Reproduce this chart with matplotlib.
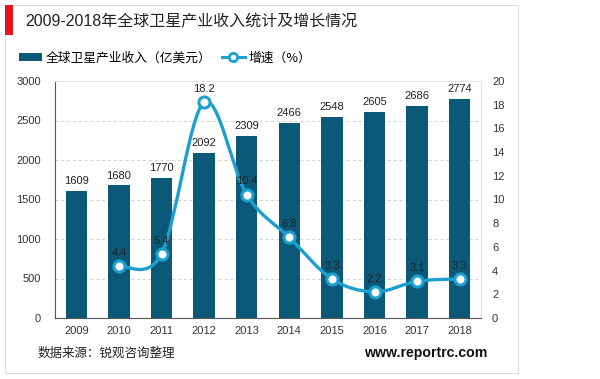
import numpy as np
import matplotlib
matplotlib.use("Agg")
import matplotlib.pyplot as plt
from matplotlib.patches import Rectangle
from matplotlib.path import Path
from matplotlib.patches import PathPatch
from matplotlib.lines import Line2D

plt.rcParams['font.family'] = ['Liberation Sans', 'Noto Sans CJK SC', 'DejaVu Sans']

years = ['2009', '2010', '2011', '2012', '2013', '2014', '2015', '2016', '2017', '2018']
revenue = [1609, 1680, 1770, 2092, 2309, 2466, 2548, 2605, 2686, 2774]
growth_years = ['2010', '2011', '2012', '2013', '2014', '2015', '2016', '2017', '2018']
growth = [4.4, 5.4, 18.2, 10.4, 6.8, 3.3, 2.2, 3.1, 3.3]

bar_color = '#0b5878'
line_color = '#1ba0d0'
cjk = ['Noto Sans CJK SC', 'DejaVu Sans']

fig = plt.figure(figsize=(6, 3.79), dpi=100)

# outer card + red marker
fig.patches.append(Rectangle((5/600, 1-373/379), 513/600, 368/379, transform=fig.transFigure,
                             facecolor='white', edgecolor='#dddddd', lw=0.8, zorder=-2))
fig.patches.append(Rectangle((5/600, 1-35/379), 8/600, 30/379, transform=fig.transFigure,
                             facecolor='#e8141b', edgecolor='none', zorder=-1))

fig.text(25/600, 1-22/379, '2009-2018年全球卫星产业收入统计及增长情况', fontsize=11.5,
         family=['Liberation Sans', 'Noto Sans CJK SC'], va='center', ha='left', color='#222222')

ax = fig.add_axes([55/600, 1-318/379, 426/600, 237/379])
ax.set_zorder(1)
ax.patch.set_visible(False)
x = np.arange(len(years))
ax.bar(x, revenue, width=0.5, color=bar_color, zorder=2)
for xi, v in zip(x, revenue):
    ax.text(xi, v + 60, str(v), ha='center', va='bottom', fontsize=8, color='#222222')

ax.set_xlim(-0.5, len(years) - 0.5)
ax.set_ylim(0, 3000)
ax.set_yticks(np.arange(0, 3001, 500))
ax.set_xticks(x)
ax.set_xticklabels(years)
ax.tick_params(axis='both', length=0, labelsize=8, colors='#333333')
ax.tick_params(axis='x', pad=6)
ax.tick_params(axis='y', pad=10)
ax.grid(axis='y', color='#d0d0d0', linestyle=(0, (3, 3)), lw=0.7, zorder=0)
ax.set_axisbelow(True)
ax.spines['left'].set_color('#555555')
ax.spines['bottom'].set_color('#555555')
ax.spines['top'].set_color('#e4e4e4')
ax.spines['right'].set_color('#e4e4e4')

ax2 = ax.twinx()
ax2.set_ylim(0, 20)
ax2.set_yticks(np.arange(0, 21, 2))
ax2.tick_params(axis='y', length=0, labelsize=8, colors='#333333', pad=8)
for s in ax2.spines.values():
    s.set_visible(False)

gx = np.array([years.index(y) for y in growth_years], dtype=float)
gy = np.array(growth, dtype=float)

# smooth curve through the points (Catmull-Rom as cubic Bezier segments)
verts = [(gx[0], gy[0])]
codes = [Path.MOVETO]
n = len(gx)
for i in range(n - 1):
    p0 = np.array([gx[max(i - 1, 0)], gy[max(i - 1, 0)]])
    p1 = np.array([gx[i], gy[i]])
    p2 = np.array([gx[i + 1], gy[i + 1]])
    p3 = np.array([gx[min(i + 2, n - 1)], gy[min(i + 2, n - 1)]])
    c1 = p1 + (p2 - p0) / 6.0
    c2 = p2 - (p3 - p1) / 6.0
    verts += [tuple(c1), tuple(c2), tuple(p2)]
    codes += [Path.CURVE4] * 3
ax2.add_patch(PathPatch(Path(verts, codes), facecolor='none', edgecolor=line_color, lw=2.4, zorder=3))
ax2.plot(gx, gy, linestyle='none', marker='o', markersize=8, markerfacecolor='white',
         markeredgecolor=line_color, markeredgewidth=2.2, zorder=4)
for xi, v in zip(gx, gy):
    ax2.text(xi, v + 0.7, f'{v:.1f}', ha='center', va='bottom', fontsize=8, color='#222222', zorder=5)

handles = [Rectangle((0, 0), 1, 1, facecolor=bar_color),
           Line2D([0], [0], color=line_color, lw=2.2, marker='o', markersize=6,
                  markerfacecolor='white', markeredgecolor=line_color, markeredgewidth=2)]
leg = fig.legend(handles, ['全球卫星产业收入（亿美元）', '增速（%）'], loc='center left',
                 bbox_to_anchor=(14/600, 1-58/379), ncol=2, frameon=False,
                 prop={'family': cjk, 'size': 9.2}, handlelength=1.8, handleheight=0.5,
                 handletextpad=0.3, columnspacing=0.8, borderaxespad=0)

fig.text(38/600, 1-353/379, '数据来源：锐观咨询整理', fontsize=9, family=cjk,
         va='center', ha='left', color='#222222')
fig.text(487/600, 1-353/379, 'www.reportrc.com', fontsize=10.2, fontweight='bold',
         va='center', ha='right', color='#111111')

fig.savefig('out.png', dpi=100)
